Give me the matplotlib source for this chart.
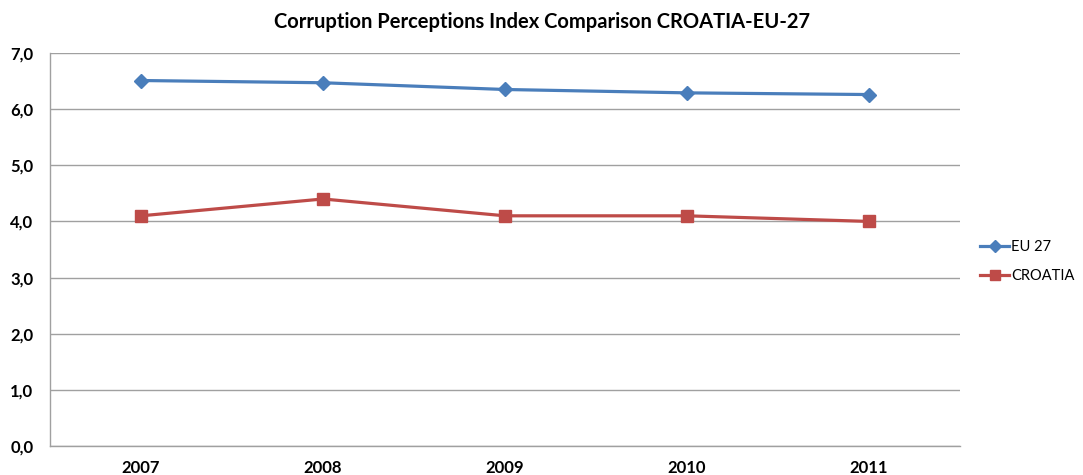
import matplotlib
matplotlib.use("Agg")
import matplotlib.pyplot as plt
from matplotlib.lines import Line2D

years = ["2007", "2008", "2009", "2010", "2011"]
eu27 = [6.51, 6.47, 6.35, 6.29, 6.26]
croatia = [4.1, 4.4, 4.1, 4.1, 4.0]
yticks = [0, 1, 2, 3, 4, 5, 6, 7]
title = "Corruption Perceptions Index Comparison CROATIA-EU-27"

plt.rcParams['font.family'] = ['Lato', 'DejaVu Sans']

fig = plt.figure(figsize=(10.83, 4.75), dpi=100)
ax = fig.add_axes([50/1083, 29/475, 910/1083, 393/475])

x = list(range(len(years)))
ax.plot(x, eu27, color="#4A7EBB", lw=2.3, marker="D", ms=7, label="EU 27", zorder=3)
ax.plot(x, croatia, color="#BE4B48", lw=2.3, marker="s", ms=8, label="CROATIA", zorder=3)

ax.set_xlim(-0.5, len(years) - 0.5)
ax.set_ylim(0, 7)
ax.set_yticks(yticks)
ax.set_yticklabels([f"{v:.1f}".replace(".", ",") for v in yticks], fontsize=12, fontweight="bold")
ax.set_xticks(x)
ax.set_xticklabels(years, fontsize=12, fontweight="bold")
ax.tick_params(axis="both", length=0, pad=12)
ax.tick_params(axis="x", pad=10)
ax.grid(axis="y", color="#A0A0A0", lw=1)
ax.set_axisbelow(True)
for s in ["top", "right"]:
    ax.spines[s].set_visible(False)
for s in ["left", "bottom"]:
    ax.spines[s].set_color("#A0A0A0")
    ax.spines[s].set_linewidth(1)

handles = [Line2D([], [], color="#4A7EBB", lw=2.3, marker="D", ms=6),
           Line2D([], [], color="#BE4B48", lw=2.3, marker="s", ms=7)]
ax.legend(handles, ["EU 27", "CROATIA"], loc="center left", bbox_to_anchor=(1.022, 0.47),
          frameon=False, fontsize=10.5, handlelength=2.0, handletextpad=0.15,
          labelspacing=1.05, borderaxespad=0, borderpad=0)

fig.text(0.5, 1 - 22/475, title, ha="center", va="center", fontsize=14.5, fontweight="bold")

fig.savefig("out.png", dpi=100)
